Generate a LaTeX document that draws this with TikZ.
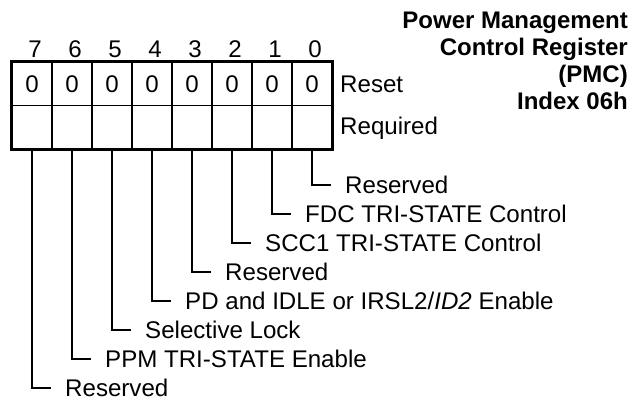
\documentclass[tikz,border=0pt]{standalone}
\usepackage{fontspec}
\setmainfont{Liberation Sans}
\begin{document}
\begin{tikzpicture}[x=1pt,y=-1pt,
  txt/.style={inner sep=0pt, font=\fontsize{24.1}{28}\selectfont},
  ttl/.style={inner sep=0pt, anchor=base east, font=\fontsize{24}{28}\selectfont\bfseries},
  cell/.style={draw, line width=1.6pt, minimum width=40pt, minimum height=43pt, inner sep=0pt, font=\fontsize{24.1}{28}\selectfont},
  conn/.style={line width=1.8pt},
  ]
\useasboundingbox (0,0) rectangle (643,401);
% title
\node[ttl] (t1) at (628,29) {Power Management};
\node[ttl] (t2) at (628,55.7) {Control Register};
\node[ttl] (t3) at (628,82.4) {(PMC)};
\node[ttl] (t4) at (628,109.1) {Index 06h};
% register cells
\foreach \i in {0,...,7} {
  \pgfmathsetmacro{\cx}{32+40*(7-\i)}
  \node[cell] (r\i) at (\cx,84) {0};
  \node[cell] (q\i) at (\cx,127) {};
  \node[txt, anchor=base] (n\i) at (\cx+3,58) {\i};
}
\draw[line width=2.8pt] (r7.north west) rectangle (q0.south east);
\node[txt,anchor=base west] (reset) at (340,93) {Reset};
\node[txt,anchor=base west] (req) at (340,135) {Required};
% bit descriptions
\foreach \i/\t in {0/{Reserved},1/{FDC TRI-STATE Control},2/{SCC1 TRI-STATE Control},3/{Reserved},4/{PD and IDLE or IRSL2/\textit{ID2} Enable},5/{Selective Lock},6/{PPM TRI-STATE Enable},7/{Reserved}} {
  \pgfmathsetmacro{\cx}{32+40*(7-\i)}
  \pgfmathsetmacro{\cy}{185+29*\i}
  \coordinate (e\i) at (\cx+19,\cy);
  \node[txt,anchor=base west] (l\i) at (\cx+33,\cy+8.5) {\t};
  \draw[conn] (q\i.south) |- (e\i);
}
\end{tikzpicture}
\end{document}
